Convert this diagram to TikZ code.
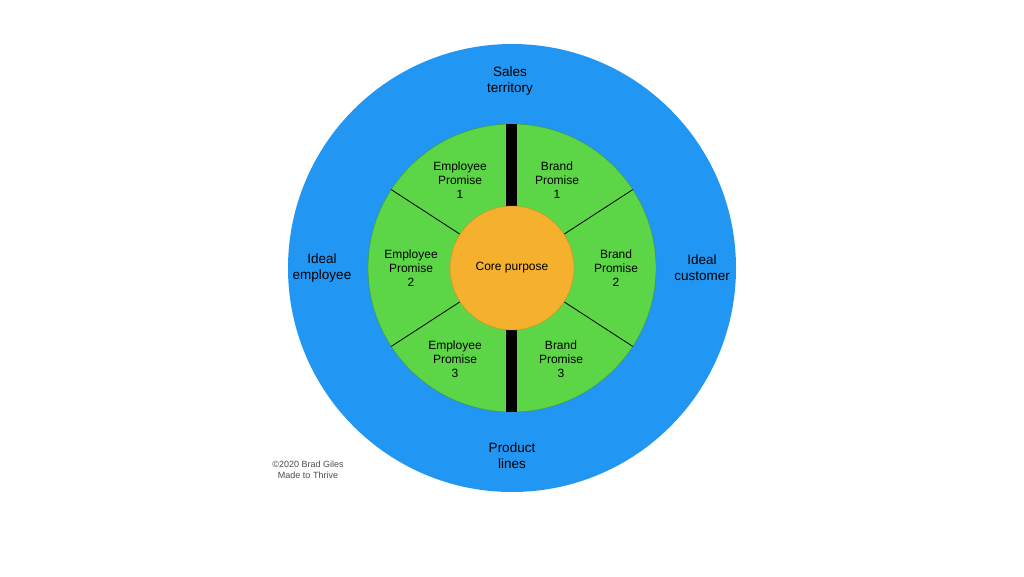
\documentclass[tikz,border=0pt]{standalone}
\usepackage{fontspec}
\setmainfont{Liberation Sans}
\definecolor{ringblue}{RGB}{33,150,243}
\definecolor{ringgreen}{RGB}{92,214,70}
\definecolor{coreorange}{RGB}{245,177,46}
\begin{document}
\begin{tikzpicture}[x=1pt,y=-1pt,
  txt/.style={align=center,font=\fontsize{12}{14}\selectfont},
  big/.style={align=center,font=\fontsize{13.5}{16}\selectfont},
  spoke/.style={line width=0.8pt,black}]
\useasboundingbox (0,0) rectangle (1024,576);
\node[circle,fill=ringblue,minimum size=448pt,inner sep=0] (outer) at (512,268) {};
\node[circle,fill=ringgreen,draw=ringgreen!70!black,line width=0.4pt,minimum size=288pt,inner sep=0] (mid) at (512,268) {};
\fill[black] (506,124) rectangle (517,412);
\foreach \a in {33,147,213,327}{
  \draw[spoke] ({512+62*cos(\a)},{268-62*sin(\a)}) -- ({512+144*cos(\a)},{268-144*sin(\a)});
}
\node[circle,fill=coreorange,draw=coreorange!80!black,line width=0.4pt,minimum size=124pt,inner sep=0,txt] (core) at (512,268) {Core purpose};
\node[big] (st) at (510,81) {Sales\\territory};
\node[big] (ie) at (322,268) {Ideal\\employee};
\node[big] (ic) at (702,268) {Ideal\\customer};
\node[big] (pl) at (512,456) {Product\\lines};
\node[txt] (e1) at (460,180) {Employee\\Promise\\1};
\node[txt] (b1) at (557,180) {Brand\\Promise\\1};
\node[txt] (e2) at (411,268) {Employee\\Promise\\2};
\node[txt] (b2) at (616,268) {Brand\\Promise\\2};
\node[txt] (e3) at (455,359) {Employee\\Promise\\3};
\node[txt] (b3) at (561,359) {Brand\\Promise\\3};
\node[align=center,text=black!70,font=\fontsize{9}{11}\selectfont] (cr) at (308,470) {©2020 Brad Giles\\Made to Thrive};
\end{tikzpicture}
\end{document}
